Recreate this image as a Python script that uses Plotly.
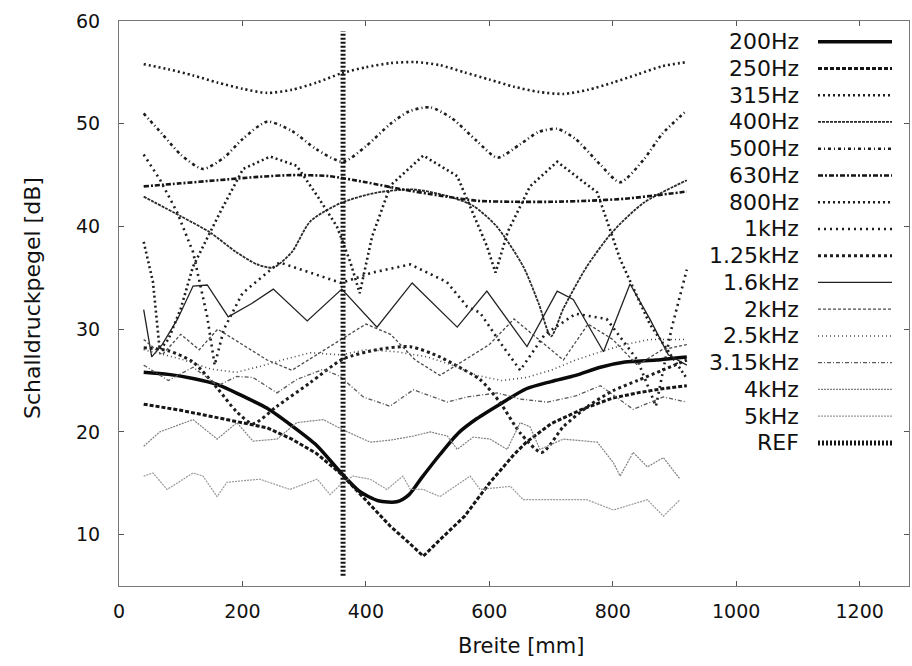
import plotly.graph_objects as go

# ---------------- data (x in mm, level in dB) ----------------
names = ["200Hz", "250Hz", "315Hz", "400Hz", "500Hz", "630Hz", "800Hz", "1kHz",
         "1.25kHz", "1.6kHz", "2kHz", "2.5kHz", "3.15kHz", "4kHz", "5kHz", "REF"]

x200 = [40, 80, 120, 160, 200, 240, 280, 320, 360, 390, 420, 450, 470, 490, 520, 550, 580, 620, 660, 700, 740, 780, 820, 870, 920]
y200 = [25.8, 25.6, 25.2, 24.6, 23.5, 22.3, 20.6, 18.7, 16.0, 14.2, 13.3, 13.2, 13.9, 15.5, 17.8, 19.9, 21.3, 22.8, 24.2, 24.9, 25.5, 26.3, 26.8, 27.0, 27.3]

x250 = [40, 100, 150, 200, 240, 280, 320, 360, 400, 440, 470, 493, 520, 560, 600, 640, 660, 700, 750, 800, 840, 880, 920]
y250 = [22.7, 22.1, 21.5, 20.9, 20.4, 19.3, 17.9, 15.9, 13.3, 10.8, 9.2, 7.9, 9.5, 11.8, 15.0, 17.8, 19.0, 20.8, 22.2, 23.3, 23.8, 24.2, 24.5]

x315 = [40, 80, 120, 160, 200, 240, 280, 320, 360, 400, 440, 480, 520, 560, 600, 640, 680, 720, 760, 800, 840, 880, 920]
y315 = [55.8, 55.3, 54.7, 54.0, 53.4, 53.0, 53.3, 54.0, 54.9, 55.5, 55.9, 56.0, 55.7, 55.0, 54.3, 53.6, 53.1, 52.9, 53.3, 54.0, 54.8, 55.6, 56.0]

x400 = [40, 100, 148, 190, 224, 250, 280, 310, 360, 418, 477, 530, 574, 612, 655, 680, 700, 720, 758, 800, 850, 920]
y400 = [42.9, 41.0, 39.4, 37.5, 36.3, 36.0, 37.5, 40.5, 42.3, 43.3, 43.6, 43.0, 42.0, 40.0, 36.1, 32.5, 29.3, 32.0, 36.1, 39.5, 42.3, 44.5]

x500 = [40, 70, 100, 136, 170, 200, 240, 280, 320, 363, 400, 440, 470, 504, 540, 580, 613, 650, 680, 710, 740, 780, 812, 850, 880, 920]
y500 = [51.0, 49.0, 47.0, 45.6, 46.7, 48.5, 50.2, 49.3, 47.5, 46.3, 47.8, 50.0, 51.2, 51.6, 50.5, 48.3, 46.7, 48.0, 49.2, 49.5, 48.5, 46.0, 44.3, 46.5, 49.0, 51.3]

x630 = [40, 100, 160, 220, 280, 340, 400, 460, 520, 580, 640, 700, 760, 820, 880, 920]
y630 = [43.9, 44.2, 44.5, 44.8, 45.0, 44.9, 44.3, 43.6, 43.0, 42.5, 42.4, 42.4, 42.5, 42.7, 43.1, 43.4]

x800 = [40, 55, 66, 80, 100, 120, 164, 201, 245, 288, 321, 353, 375, 390, 410, 440, 493, 548, 596, 610, 630, 666, 710, 775, 812, 860, 920]
y800 = [38.5, 34.6, 28.0, 29.0, 32.0, 36.1, 41.4, 45.6, 46.8, 45.9, 43.0, 40.0, 36.5, 33.5, 39.0, 44.0, 46.9, 44.9, 38.1, 35.5, 39.5, 43.9, 46.3, 43.3, 36.8, 30.5, 25.2]

x1k = [40, 66, 94, 120, 143, 155, 170, 200, 260, 310, 360, 410, 472, 531, 564, 585, 620, 650, 690, 740, 790, 840, 870, 895, 920]
y1k = [47.0, 44.6, 41.4, 37.5, 31.2, 26.5, 30.0, 33.5, 36.5, 35.5, 34.5, 35.5, 36.3, 34.6, 32.2, 31.6, 28.5, 26.0, 29.5, 31.5, 31.0, 27.0, 22.5, 30.0, 35.8]

x125k = [40, 80, 120, 160, 190, 217, 256, 310, 363, 418, 472, 520, 548, 585, 617, 650, 685, 720, 760, 800, 840, 880, 920]
y125k = [28.2, 27.9, 26.8, 24.2, 22.0, 20.8, 22.5, 24.8, 27.1, 28.0, 28.3, 27.3, 26.4, 25.1, 22.9, 19.9, 18.0, 20.5, 22.5, 24.0, 25.0, 26.0, 27.0]

x16k = [40, 53, 70, 95, 120, 143, 177, 215, 250, 305, 361, 418, 475, 548, 596, 661, 710, 736, 785, 828, 860, 890, 920]
y16k = [31.9, 27.3, 28.5, 31.0, 34.2, 34.3, 31.2, 32.5, 33.9, 30.8, 33.9, 30.2, 34.5, 30.2, 33.7, 28.3, 33.7, 32.9, 27.8, 34.4, 31.0, 27.5, 26.5]

x2k = [40, 70, 100, 130, 160, 200, 240, 280, 320, 360, 400, 440, 480, 520, 560, 600, 640, 680, 720, 760, 800, 840, 880, 920]
y2k = [29.0, 27.5, 29.5, 28.0, 30.0, 28.5, 27.0, 26.0, 27.5, 29.0, 30.5, 29.5, 27.0, 25.5, 27.0, 28.5, 31.0, 29.0, 27.0, 30.5, 29.0, 26.5, 28.0, 28.5]

x25k = [40, 100, 150, 190, 230, 270, 310, 360, 400, 450, 500, 540, 580, 620, 660, 700, 740, 780, 820, 860, 920]
y25k = [28.0, 27.1, 26.1, 25.8, 26.4, 27.1, 27.7, 27.5, 28.0, 27.8, 27.3, 26.5, 25.5, 25.0, 25.3, 26.0, 27.0, 27.8, 28.5, 29.0, 29.0]

x315k = [40, 80, 120, 160, 191, 217, 256, 288, 331, 358, 396, 439, 477, 532, 564, 613, 650, 694, 740, 780, 833, 882, 920]
y315k = [26.5, 25.0, 26.3, 24.5, 25.4, 25.3, 23.8, 25.1, 26.1, 25.4, 23.4, 22.5, 24.1, 22.9, 23.4, 23.8, 23.2, 22.9, 23.5, 24.5, 22.2, 23.4, 22.9]

x4k = [40, 66, 120, 159, 191, 217, 256, 288, 331, 363, 407, 440, 477, 504, 532, 548, 574, 601, 629, 650, 666, 682, 720, 775, 801, 812, 833, 856, 882, 909]
y4k = [18.6, 20.0, 21.2, 19.3, 20.9, 19.1, 19.3, 20.9, 21.2, 20.2, 19.0, 19.2, 19.6, 20.0, 19.6, 18.3, 19.5, 19.3, 18.3, 20.9, 20.5, 18.3, 19.3, 19.0, 17.0, 15.7, 18.0, 16.6, 17.5, 15.4]

x5k = [40, 55, 78, 120, 136, 159, 175, 228, 277, 321, 342, 363, 379, 407, 434, 460, 472, 493, 520, 569, 585, 634, 655, 703, 758, 801, 856, 882, 909]
y5k = [15.7, 16.0, 14.4, 16.0, 15.7, 13.7, 15.1, 15.4, 14.4, 15.4, 13.9, 15.1, 15.7, 15.4, 14.4, 15.7, 14.4, 14.4, 13.7, 15.7, 14.4, 14.7, 13.4, 13.4, 13.4, 12.4, 13.4, 11.8, 13.4]

xref_line = [363, 363]
yref_line = [6, 59]

x_ticks = [0, 200, 400, 600, 800, 1000, 1200]
y_ticks = [10, 20, 30, 40, 50, 60]

series = [(x200, y200), (x250, y250), (x315, y315), (x400, y400), (x500, y500),
          (x630, y630), (x800, y800), (x1k, y1k), (x125k, y125k), (x16k, y16k),
          (x2k, y2k), (x25k, y25k), (x315k, y315k), (x4k, y4k), (x5k, y5k),
          (xref_line, yref_line)]

# ---------------- styles ----------------
styles = [
    dict(color="#0a0a0a", width=3.5, dash="solid", shape="spline"),
    dict(color="#151515", width=3.0, dash="4px,2px", shape="linear"),
    dict(color="#1e1e1e", width=2.6, dash="2px,3px", shape="spline"),
    dict(color="#2a2a2a", width=1.8, dash="3px,1px", shape="spline"),
    dict(color="#1e1e1e", width=2.6, dash="3px,3px,1px,3px", shape="spline"),
    dict(color="#151515", width=2.6, dash="5px,2px,2px,2px", shape="spline"),
    dict(color="#1e1e1e", width=2.6, dash="2px,3px", shape="linear"),
    dict(color="#1e1e1e", width=2.6, dash="2px,4px", shape="linear"),
    dict(color="#1e1e1e", width=3.0, dash="3px,3px", shape="spline"),
    dict(color="#222222", width=1.3, dash="solid", shape="linear"),
    dict(color="#4a4a4a", width=1.3, dash="3px,2px", shape="linear"),
    dict(color="#4a4a4a", width=1.6, dash="1px,3px", shape="linear"),
    dict(color="#5a5a5a", width=1.3, dash="4px,2px,1px,2px", shape="linear"),
    dict(color="#808080", width=1.2, dash="2px,1px", shape="linear"),
    dict(color="#999999", width=1.2, dash="2px,1px", shape="linear"),
    dict(color="#151515", width=5.0, dash="2px,2px", shape="linear"),
]

fig = go.Figure()
for name, (xs, ys), st in zip(names, series, styles):
    line = dict(color=st["color"], width=st["width"], dash=st["dash"], shape=st["shape"])
    if st["shape"] == "spline":
        line["smoothing"] = 0.7
    fig.add_trace(go.Scatter(x=xs, y=ys, mode="lines", name=name, line=line, showlegend=False))

# ---------------- layout ----------------
L, R, T, B = 119, 3, 21, 80
W, H = 912, 666
pw, ph = W - L - R, H - T - B

def px_to_paper_x(px):
    return (px - L) / pw

def px_to_paper_y(py):
    return (H - B - py) / ph

font_family = "DejaVu Sans"
annotations = []
shapes = []
for i, (name, st) in enumerate(zip(names, styles)):
    ypx = 41.7 + i * 26.75
    yp = px_to_paper_y(ypx)
    annotations.append(dict(text=name, x=px_to_paper_x(801), y=yp, xref="paper", yref="paper",
                            xanchor="right", yanchor="middle", showarrow=False,
                            font=dict(family=font_family, size=22, color="#111111")))
    shapes.append(dict(type="line", xref="paper", yref="paper",
                       x0=px_to_paper_x(818), x1=px_to_paper_x(892), y0=yp, y1=yp,
                       line=dict(color=st["color"], width=st["width"], dash=st["dash"])))

annotations.append(dict(text="Breite [mm]", x=px_to_paper_x(521), y=px_to_paper_y(646),
                        xref="paper", yref="paper", xanchor="center", yanchor="middle",
                        showarrow=False, font=dict(family=font_family, size=21, color="#111111")))
annotations.append(dict(text="Schalldruckpegel [dB]", x=px_to_paper_x(32), y=px_to_paper_y(298),
                        xref="paper", yref="paper", xanchor="center", yanchor="middle",
                        textangle=-90, showarrow=False,
                        font=dict(family=font_family, size=22, color="#111111")))

fig.update_layout(
    width=W, height=H,
    margin=dict(l=L, r=R, t=T, b=B),
    paper_bgcolor="white", plot_bgcolor="white",
    font=dict(family=font_family, size=19, color="#111111"),
    annotations=annotations, shapes=shapes,
    showlegend=False,
)
fig.update_xaxes(range=[0, 1280], tickvals=x_ticks, ticks="inside", ticklen=5,
                 tickcolor="#555555", showline=True, linecolor="#777777", linewidth=1.2,
                 mirror="ticks", showgrid=False, zeroline=False,
                 tickfont=dict(family=font_family, size=19, color="#111111"),
                 ticklabelstandoff=8)
fig.update_yaxes(range=[5, 60], tickvals=y_ticks, ticks="inside", ticklen=5,
                 tickcolor="#555555", showline=True, linecolor="#777777", linewidth=1.2,
                 mirror="ticks", showgrid=False, zeroline=False,
                 tickfont=dict(family=font_family, size=19, color="#111111"),
                 ticklabelstandoff=14)

fig.write_html("out.html")
